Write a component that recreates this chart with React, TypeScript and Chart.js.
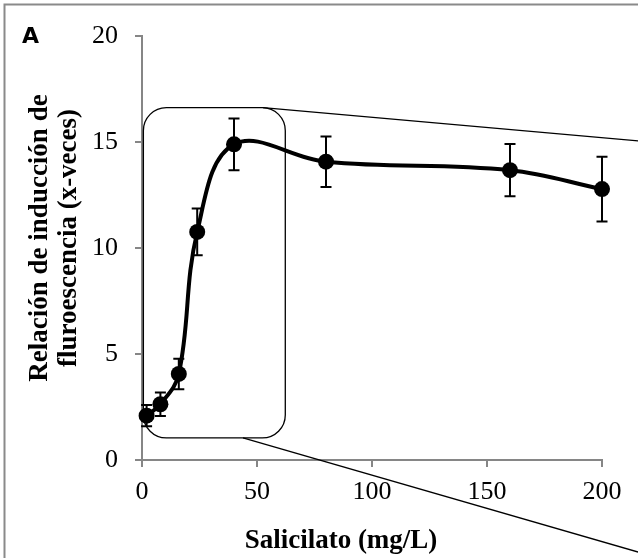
import React, { useEffect, useRef } from "react";
import { Chart, registerables } from "chart.js";

Chart.register(...registerables);

// ---- data ----
const salicilato = [2, 8, 16, 24, 40, 80, 160, 200];
const induccion = [2.09, 2.63, 4.06, 10.76, 14.89, 14.07, 13.67, 12.78];
const errorSD = [0.5, 0.55, 0.72, 1.1, 1.22, 1.19, 1.23, 1.53];
const xTicks = [0, 50, 100, 150, 200];
const yTicks = [0, 5, 10, 15, 20];

// inset (zoom) annotation, in data units
const insetBox = { xMin: 0.6, xMax: 62.3, yMin: 1.04, yMax: 16.62 };
const insetTopLine = [[52.6, 16.62], [215.7, 15.05]];
const insetBottomLine = [[43.9, 1.04], [215.7, -4.34]];

const panelLabel = "A";
const xTitle = "Salicilato (mg/L)";
const yTitleLines = ["Relación de inducción de", "fluroescencia (x-veces)"];

const SERIF = "'Liberation Serif', 'Times New Roman', serif";

const errorBarPlugin = {
  id: "errorBars",
  afterDatasetsDraw(chart: any) {
    const { ctx, scales } = chart;
    const xs = scales.x;
    const ys = scales.y;
    ctx.save();
    ctx.strokeStyle = "#000";
    ctx.lineWidth = 2;
    for (let i = 0; i < salicilato.length; i++) {
      const x = xs.getPixelForValue(salicilato[i]);
      const yT = ys.getPixelForValue(induccion[i] + errorSD[i]);
      const yB = ys.getPixelForValue(induccion[i] - errorSD[i]);
      ctx.beginPath();
      ctx.moveTo(x, yT);
      ctx.lineTo(x, yB);
      ctx.moveTo(x - 5.5, yT);
      ctx.lineTo(x + 5.5, yT);
      ctx.moveTo(x - 5.5, yB);
      ctx.lineTo(x + 5.5, yB);
      ctx.stroke();
    }
    ctx.restore();
  },
};

const decorPlugin = {
  id: "decor",
  afterDraw(chart: any) {
    const { ctx, scales, width, height } = chart;
    const xs = scales.x;
    const ys = scales.y;
    ctx.save();
    // outer frame (left & top)
    ctx.strokeStyle = "#8a8a8a";
    ctx.lineWidth = 2;
    ctx.beginPath();
    ctx.moveTo(4.5, height);
    ctx.lineTo(4.5, 4.5);
    ctx.lineTo(width, 4.5);
    ctx.stroke();

    // inset box
    ctx.strokeStyle = "#000";
    ctx.lineWidth = 1.3;
    const l = xs.getPixelForValue(insetBox.xMin);
    const r = xs.getPixelForValue(insetBox.xMax);
    const t = ys.getPixelForValue(insetBox.yMax);
    const b = ys.getPixelForValue(insetBox.yMin);
    ctx.beginPath();
    (ctx as any).roundRect(l, t, r - l, b - t, 23);
    ctx.stroke();
    for (const seg of [insetTopLine, insetBottomLine]) {
      ctx.beginPath();
      ctx.moveTo(xs.getPixelForValue(seg[0][0]), ys.getPixelForValue(seg[0][1]));
      ctx.lineTo(xs.getPixelForValue(seg[1][0]), ys.getPixelForValue(seg[1][1]));
      ctx.stroke();
    }

    // panel label
    ctx.fillStyle = "#000";
    ctx.font = "bold 22px 'DejaVu Sans', sans-serif";
    ctx.textAlign = "left";
    ctx.textBaseline = "alphabetic";
    ctx.fillText(panelLabel, 22, 43);

    // x title
    ctx.font = `bold 27px ${SERIF}`;
    ctx.textAlign = "center";
    ctx.fillText(xTitle, 341, 548);

    // y title
    ctx.translate(0, 238);
    ctx.rotate(-Math.PI / 2);
    ctx.fillText(yTitleLines[0], 0, 47);
    ctx.fillText(yTitleLines[1], 0, 76);
    ctx.restore();
  },
};

export default function App() {
  const ref = useRef<HTMLCanvasElement>(null);
  useEffect(() => {
    const canvas = ref.current!;
    const axisGrid = {
      display: true,
      drawOnChartArea: false,
      drawTicks: true,
      tickLength: 7,
      color: "#868686",
      lineWidth: 2,
    };
    const chart = new Chart(canvas, {
      type: "line",
      data: {
        datasets: [
          {
            data: salicilato.map((x, i) => ({ x, y: induccion[i] })),
            borderColor: "#000",
            backgroundColor: "#000",
            borderWidth: 4,
            tension: 0.38,
            pointRadius: 8,
            pointBackgroundColor: "#000",
            pointBorderWidth: 0,
            clip: false as any,
          },
        ],
      },
      options: {
        responsive: false,
        animation: false,
        devicePixelRatio: 1,
        layout: { padding: { top: 36, right: 36, left: 0, bottom: 0 } },
        plugins: { legend: { display: false }, tooltip: { enabled: false } },
        scales: {
          x: {
            type: "linear",
            min: 0,
            max: 200,
            afterBuildTicks: (s: any) => {
              s.ticks = xTicks.map((v) => ({ value: v }));
            },
            afterFit: (s: any) => {
              s.height = 98;
            },
            ticks: {
              color: "#000",
              font: { family: SERIF, size: 26 },
              padding: 10,
              maxRotation: 0,
            },
            grid: axisGrid,
            border: { display: true, color: "#868686", width: 2 },
          },
          y: {
            type: "linear",
            min: 0,
            max: 20,
            afterBuildTicks: (s: any) => {
              s.ticks = yTicks.map((v) => ({ value: v }));
            },
            afterFit: (s: any) => {
              s.width = 142;
            },
            ticks: {
              color: "#000",
              font: { family: SERIF, size: 26 },
              padding: 17,
            },
            grid: axisGrid,
            border: { display: true, color: "#868686", width: 2 },
          },
        },
      },
      plugins: [errorBarPlugin, decorPlugin],
    } as any);
    return () => chart.destroy();
  }, []);
  return (
    <div style={{ position: "fixed", left: 0, top: 0, width: 638, height: 558, background: "#fff" }}>
      <canvas ref={ref} width={638} height={558} style={{ display: "block" }} />
    </div>
  );
}
